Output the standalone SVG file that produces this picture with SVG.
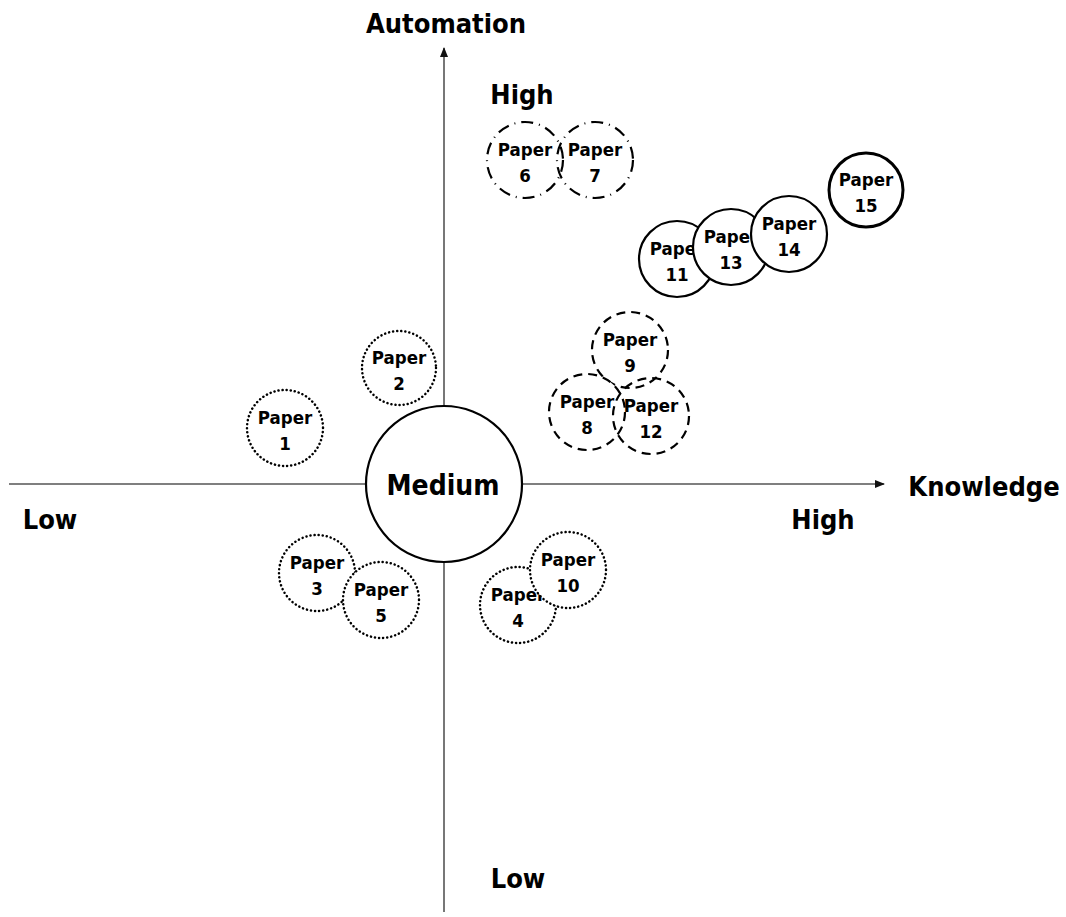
<svg xmlns="http://www.w3.org/2000/svg" width="1066" height="917" viewBox="0 0 1066 917">
<defs>
<marker id="arr" viewBox="0 0 10 10" refX="9" refY="5" markerWidth="10" markerHeight="10" markerUnits="userSpaceOnUse" orient="auto">
<path d="M0,1 L10,5 L0,9 z" fill="#111"/>
</marker>
<style>
text{font-family:"DejaVu Sans Condensed","DejaVu Sans","Liberation Sans",sans-serif;font-stretch:condensed;font-weight:bold;fill:#000;text-anchor:middle}
.lbl{font-size:27px}
.pt{font-size:18.5px}
circle{fill:#fff;stroke:#000}
.dot{stroke-width:2.5;stroke-dasharray:0.1 4;stroke-linecap:round}
.dash{stroke-width:2.2;stroke-dasharray:9 6}
.dd{stroke-width:2.2;stroke-dasharray:12 6 1 6}
.sol{stroke-width:2.2}
.axis{stroke:#555;stroke-width:1.6;fill:none}
</style>
</defs>
<rect width="1066" height="917" fill="#fff"/>
<g id="connectors">
<line class="axis" x1="9" y1="484" x2="884" y2="484" marker-end="url(#arr)"/>
<line class="axis" x1="444" y1="912" x2="444" y2="48" marker-end="url(#arr)"/>
</g>
<g id="labels">
<text class="lbl" x="446" y="33">Automation</text>
<text class="lbl" x="522" y="104">High</text>
<text class="lbl" x="984" y="496">Knowledge</text>
<text class="lbl" x="823" y="529">High</text>
<text class="lbl" x="50" y="529">Low</text>
<text class="lbl" x="518" y="888">Low</text>
</g>
<g id="medium"><circle class="sol" cx="444" cy="484" r="78"/><text x="443" y="495" style="font-size:28px">Medium</text></g>
<g id="paper1"><circle class="dot" cx="285" cy="428" r="38"/><text class="pt" x="285" y="424">Paper</text><text class="pt" x="285" y="450">1</text></g>
<g id="paper2"><circle class="dot" cx="399" cy="368" r="37"/><text class="pt" x="399" y="364">Paper</text><text class="pt" x="399" y="390">2</text></g>
<g id="paper3"><circle class="dot" cx="317" cy="573" r="38"/><text class="pt" x="317" y="569">Paper</text><text class="pt" x="317" y="595">3</text></g>
<g id="paper5"><circle class="dot" cx="381" cy="600" r="38"/><text class="pt" x="381" y="596">Paper</text><text class="pt" x="381" y="622">5</text></g>
<g id="paper4"><circle class="dot" cx="518" cy="605" r="38"/><text class="pt" x="518" y="601">Paper</text><text class="pt" x="518" y="627">4</text></g>
<g id="paper10"><circle class="dot" cx="568" cy="570" r="38"/><text class="pt" x="568" y="566">Paper</text><text class="pt" x="568" y="592">10</text></g>
<g id="paper6"><circle class="dd" cx="525" cy="160" r="38"/><text class="pt" x="525" y="156">Paper</text><text class="pt" x="525" y="182">6</text></g>
<g id="paper7"><circle class="dd" cx="595" cy="160" r="38" style="fill:none"/><text class="pt" x="595" y="156">Paper</text><text class="pt" x="595" y="182">7</text></g>
<g id="paper9"><circle class="dash" cx="630" cy="350" r="38"/><text class="pt" x="630" y="346">Paper</text><text class="pt" x="630" y="372">9</text></g>
<g id="paper8"><circle class="dash" cx="587" cy="412" r="38"/><text class="pt" x="587" y="408">Paper</text><text class="pt" x="587" y="434">8</text></g>
<g id="paper12"><circle class="dash" cx="651" cy="416" r="38" style="fill:none"/><text class="pt" x="651" y="412">Paper</text><text class="pt" x="651" y="438">12</text></g>
<g id="paper11"><circle class="sol" cx="677" cy="259" r="38"/><text class="pt" x="677" y="255">Paper</text><text class="pt" x="677" y="281">11</text></g>
<g id="paper13"><circle class="sol" cx="731" cy="247" r="38"/><text class="pt" x="731" y="243">Paper</text><text class="pt" x="731" y="269">13</text></g>
<g id="paper14"><circle class="sol" cx="789" cy="234" r="38"/><text class="pt" x="789" y="230">Paper</text><text class="pt" x="789" y="256">14</text></g>
<g id="paper15"><circle cx="866" cy="190" r="37" style="stroke-width:3"/><text class="pt" x="866" y="186">Paper</text><text class="pt" x="866" y="212">15</text></g>
</svg>
